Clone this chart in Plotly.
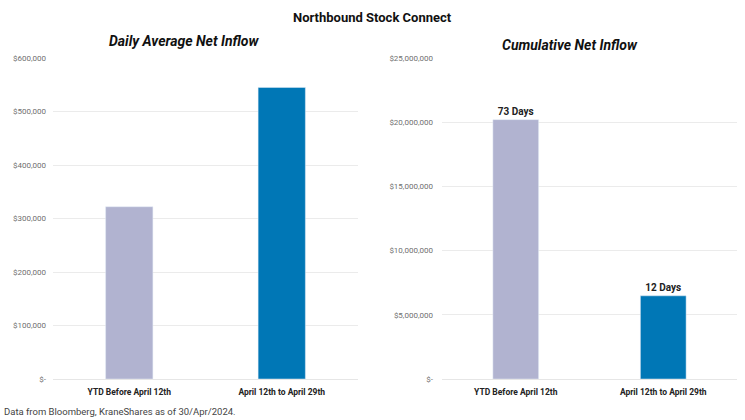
import plotly.graph_objects as go

categories = ["YTD Before April 12th", "April 12th to April 29th"]
daily_avg = [322000, 545000]
cumulative = [20200000, 6480000]
day_labels = ["73 Days", "12 Days"]
bar_colors = ["#b1b3d0", "#0077b6"]

left_ticks = [0, 100000, 200000, 300000, 400000, 500000, 600000]
left_ticktext = ["$-", "$100,000", "$200,000", "$300,000", "$400,000", "$500,000", "$600,000"]
right_ticks = [0, 5000000, 10000000, 15000000, 20000000, 25000000]
right_ticktext = ["$-", "$5,000,000", "$10,000,000", "$15,000,000", "$20,000,000", "$25,000,000"]

W, H = 745, 420
FONT = "Roboto"

fig = go.Figure()
fig.add_trace(go.Bar(x=categories, y=daily_avg, marker_color=bar_colors, width=0.31,
                     xaxis="x", yaxis="y", showlegend=False, hoverinfo="skip"))
fig.add_trace(go.Bar(x=categories, y=cumulative, marker_color=bar_colors, width=0.31,
                     text=["<b>" + t + "</b>" for t in day_labels], textposition="outside",
                     cliponaxis=False,
                     textfont=dict(family=FONT, size=10, color="#222"),
                     xaxis="x2", yaxis="y2", showlegend=False, hoverinfo="skip"))

ydom = [(H - 379) / H, (H - 58) / H]
tickfont = dict(family=FONT, size=8, color="#6f6f6f")
catfont = dict(family=FONT, size=8.5, color="#222")

fig.update_layout(
    width=W, height=H,
    margin=dict(l=0, r=0, t=0, b=0, autoexpand=False),
    paper_bgcolor="white", plot_bgcolor="white",
    bargap=0,
    xaxis=dict(domain=[53 / W, 358 / W], anchor="y", showgrid=False, showline=False,
               zeroline=False, tickfont=catfont, ticks="", automargin=False,
               tickprefix="<b>", ticksuffix="</b>", ticklabelstandoff=6),
    yaxis=dict(domain=ydom, anchor="x", range=[0, 600000], tickvals=left_ticks,
               ticktext=left_ticktext, showgrid=True, gridcolor="#ebebeb", gridwidth=1,
               zeroline=True, zerolinecolor="#e6e6e6", zerolinewidth=1, showline=False,
               tickfont=tickfont, ticks="", ticklabelstandoff=6, automargin=False),
    xaxis2=dict(domain=[442 / W, 737 / W], anchor="y2", showgrid=False, showline=False,
                zeroline=False, tickfont=catfont, ticks="", automargin=False,
                tickprefix="<b>", ticksuffix="</b>", ticklabelstandoff=6),
    yaxis2=dict(domain=ydom, anchor="x2", range=[0, 25000000], tickvals=right_ticks,
                ticktext=right_ticktext, showgrid=True, gridcolor="#ebebeb", gridwidth=1,
                zeroline=True, zerolinecolor="#e6e6e6", zerolinewidth=1, showline=False,
                tickfont=tickfont, ticks="", ticklabelstandoff=8, automargin=False),
    annotations=[
        dict(text="<b>Northbound Stock Connect</b>", x=372 / W, y=1 - 18 / H, xref="paper",
             yref="paper", showarrow=False, xanchor="center", yanchor="middle",
             font=dict(family=FONT, size=13, color="#111")),
        dict(text="<b><i>Daily Average Net Inflow</i></b>", x=184 / W, y=1 - 41 / H,
             xref="paper", yref="paper", showarrow=False, xanchor="center", yanchor="middle",
             font=dict(family=FONT, size=14, color="#111")),
        dict(text="<b><i>Cumulative Net Inflow</i></b>", x=570 / W, y=1 - 45 / H,
             xref="paper", yref="paper", showarrow=False, xanchor="center", yanchor="middle",
             font=dict(family=FONT, size=14, color="#111")),
        dict(text="Data from Bloomberg, KraneShares as of 30/Apr/2024.", x=2 / W, y=1 - 411 / H,
             xref="paper", yref="paper", showarrow=False, xanchor="left", yanchor="middle",
             font=dict(family=FONT, size=9.5, color="#444")),
    ],
)

fig.write_html("out.html", config={"displayModeBar": False, "staticPlot": True},
               post_script="document.body.style.margin='0px';")
